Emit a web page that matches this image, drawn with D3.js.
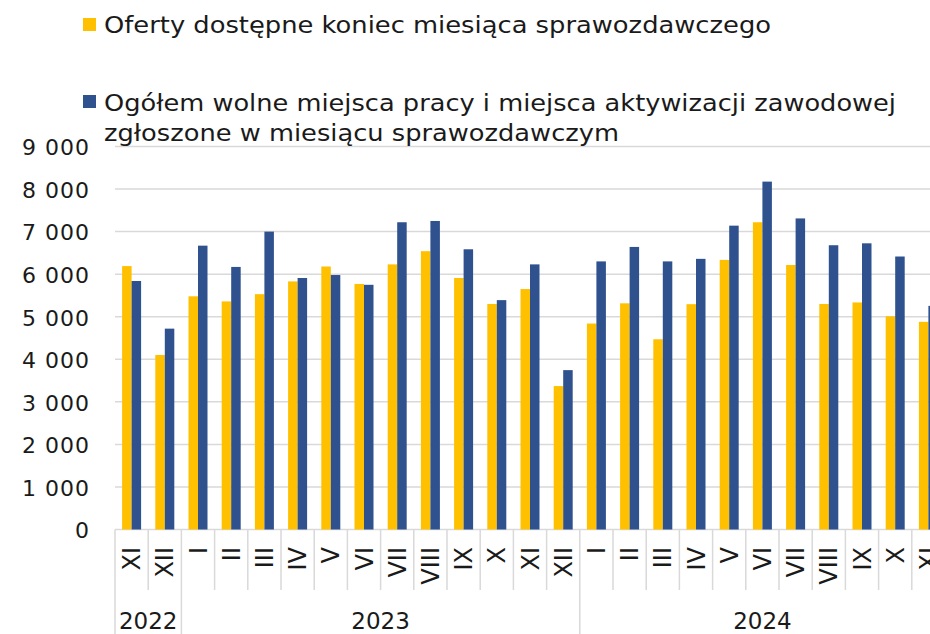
<!DOCTYPE html>
<html>
<head>
<meta charset="utf-8">
<script src="https://cdn.jsdelivr.net/npm/d3@7"></script>
<style>
  body { margin: 0; background: #fff; }
  text { font-family: "DejaVu Sans", sans-serif; fill: #1a1a1a; }
</style>
</head>
<body>
<div id="chart"></div>
<script>
// months (roman numerals) and the year each one belongs to
const months = ["XI","XII","I","II","III","IV","V","VI","VII","VIII","IX","X","XI","XII",
                "I","II","III","IV","V","VI","VII","VIII","IX","X","XI"];
const years = ["2022","2022","2023","2023","2023","2023","2023","2023","2023","2023","2023","2023","2023","2023",
               "2024","2024","2024","2024","2024","2024","2024","2024","2024","2024","2024"];
const oferty = [6190,4100,5480,5360,5530,5830,6180,5770,6230,6540,5910,5300,5650,3370,
                4840,5315,4470,5295,6335,7220,6215,5300,5335,5010,4880];
const ogolem = [5840,4720,6670,6170,7000,5910,5980,5750,7220,7250,6585,5390,6230,3745,
                6300,6640,6300,6360,7140,8175,7310,6680,6725,6415,5255];
const seriesNames = ["Oferty dostępne koniec miesiąca sprawozdawczego",
                     "Ogółem wolne miejsca pracy i miejsca aktywizacji zawodowej",
                     "zgłoszone w miesiącu sprawozdawczym"];
const yTicks = [0,1000,2000,3000,4000,5000,6000,7000,8000,9000];

const W = 930, H = 634;
const colors = ["#FFC000", "#2F528F"];
const grid = "#d9d9d9";

const svg = d3.select("#chart").append("svg")
    .attr("width", W).attr("height", H);

const idx = d3.range(months.length);
// the plot runs past the right edge of the picture, last group is cut off
const x = d3.scaleBand().domain(idx).range([115, 115 + 33.2 * months.length]).padding(0);
const x1 = d3.scaleBand().domain([0, 1]).range([7.1, 26.1]).padding(0);
const y = d3.scaleLinear().domain([0, 9000]).range([529.5, 146.5]);

const fmt = d3.formatLocale({decimal: ",", thousands: " ", grouping: [3], currency: ["", ""]}).format(",");

// gridlines
svg.append("g").selectAll("line")
    .data(yTicks).enter().append("line")
    .attr("x1", 115).attr("x2", x.range()[1])
    .attr("y1", d => y(d)).attr("y2", d => y(d))
    .attr("stroke", grid).attr("stroke-width", 1.5);

// y labels
svg.append("g").selectAll("text")
    .data(yTicks).enter().append("text")
    .attr("x", 90).attr("y", d => y(d))
    .attr("dy", "0.4em")
    .attr("text-anchor", "end")
    .style("font-size", "22px")
    .style("letter-spacing", "1px")
    .text(d => fmt(d));

// bars
const groups = svg.append("g").selectAll("g")
    .data(idx).enter().append("g")
    .attr("transform", d => "translate(" + x(d) + ",0)");

groups.append("rect")
    .attr("x", x1(0)).attr("width", x1.bandwidth())
    .attr("y", d => y(oferty[d])).attr("height", d => y(0) - y(oferty[d]))
    .attr("fill", colors[0]);

groups.append("rect")
    .attr("x", x1(1)).attr("width", x1.bandwidth())
    .attr("y", d => y(ogolem[d])).attr("height", d => y(0) - y(ogolem[d]))
    .attr("fill", colors[1]);

// category separators (short for months, long at year changes)
const bounds = d3.range(months.length + 1);
svg.append("g").selectAll("line")
    .data(bounds).enter().append("line")
    .attr("x1", d => 115 + d * x.bandwidth()).attr("x2", d => 115 + d * x.bandwidth())
    .attr("y1", y(0))
    .attr("y2", d => (d === 0 || d === months.length || years[d] !== years[d - 1]) ? H : 590)
    .attr("stroke", grid).attr("stroke-width", 1.5);

// month labels, rotated
svg.append("g").selectAll("text")
    .data(idx).enter().append("text")
    .attr("transform", d => "translate(" + (x(d) + x.bandwidth() / 2) + ",547) rotate(-90)")
    .attr("text-anchor", "end")
    .attr("dy", "0.36em")
    .style("font-size", "24px")
    .text(d => months[d]);

// year labels
const yearList = Array.from(new Set(years));
svg.append("g").selectAll("text")
    .data(yearList).enter().append("text")
    .attr("x", yr => {
        const ii = idx.filter(i => years[i] === yr);
        return (x(ii[0]) + x(ii[ii.length - 1]) + x.bandwidth()) / 2;
    })
    .attr("y", 629)
    .attr("text-anchor", "middle")
    .style("font-size", "23px")
    .text(yr => yr);

// legend
const leg = svg.append("g");
leg.append("rect").attr("x", 83).attr("y", 18).attr("width", 13).attr("height", 13).attr("fill", colors[0]);
leg.append("rect").attr("x", 83).attr("y", 95).attr("width", 13).attr("height", 13).attr("fill", colors[1]);

const legText = [
    {t: seriesNames[0], y: 33, w: 667},
    {t: seriesNames[1], y: 111, w: 792},
    {t: seriesNames[2], y: 141, w: 515}
];
leg.selectAll("text")
    .data(legText).enter().append("text")
    .attr("x", 104).attr("y", d => d.y)
    .style("font-size", "23px")
    .attr("textLength", d => d.w)
    .attr("lengthAdjust", "spacingAndGlyphs")
    .text(d => d.t);
</script>
</body>
</html>
